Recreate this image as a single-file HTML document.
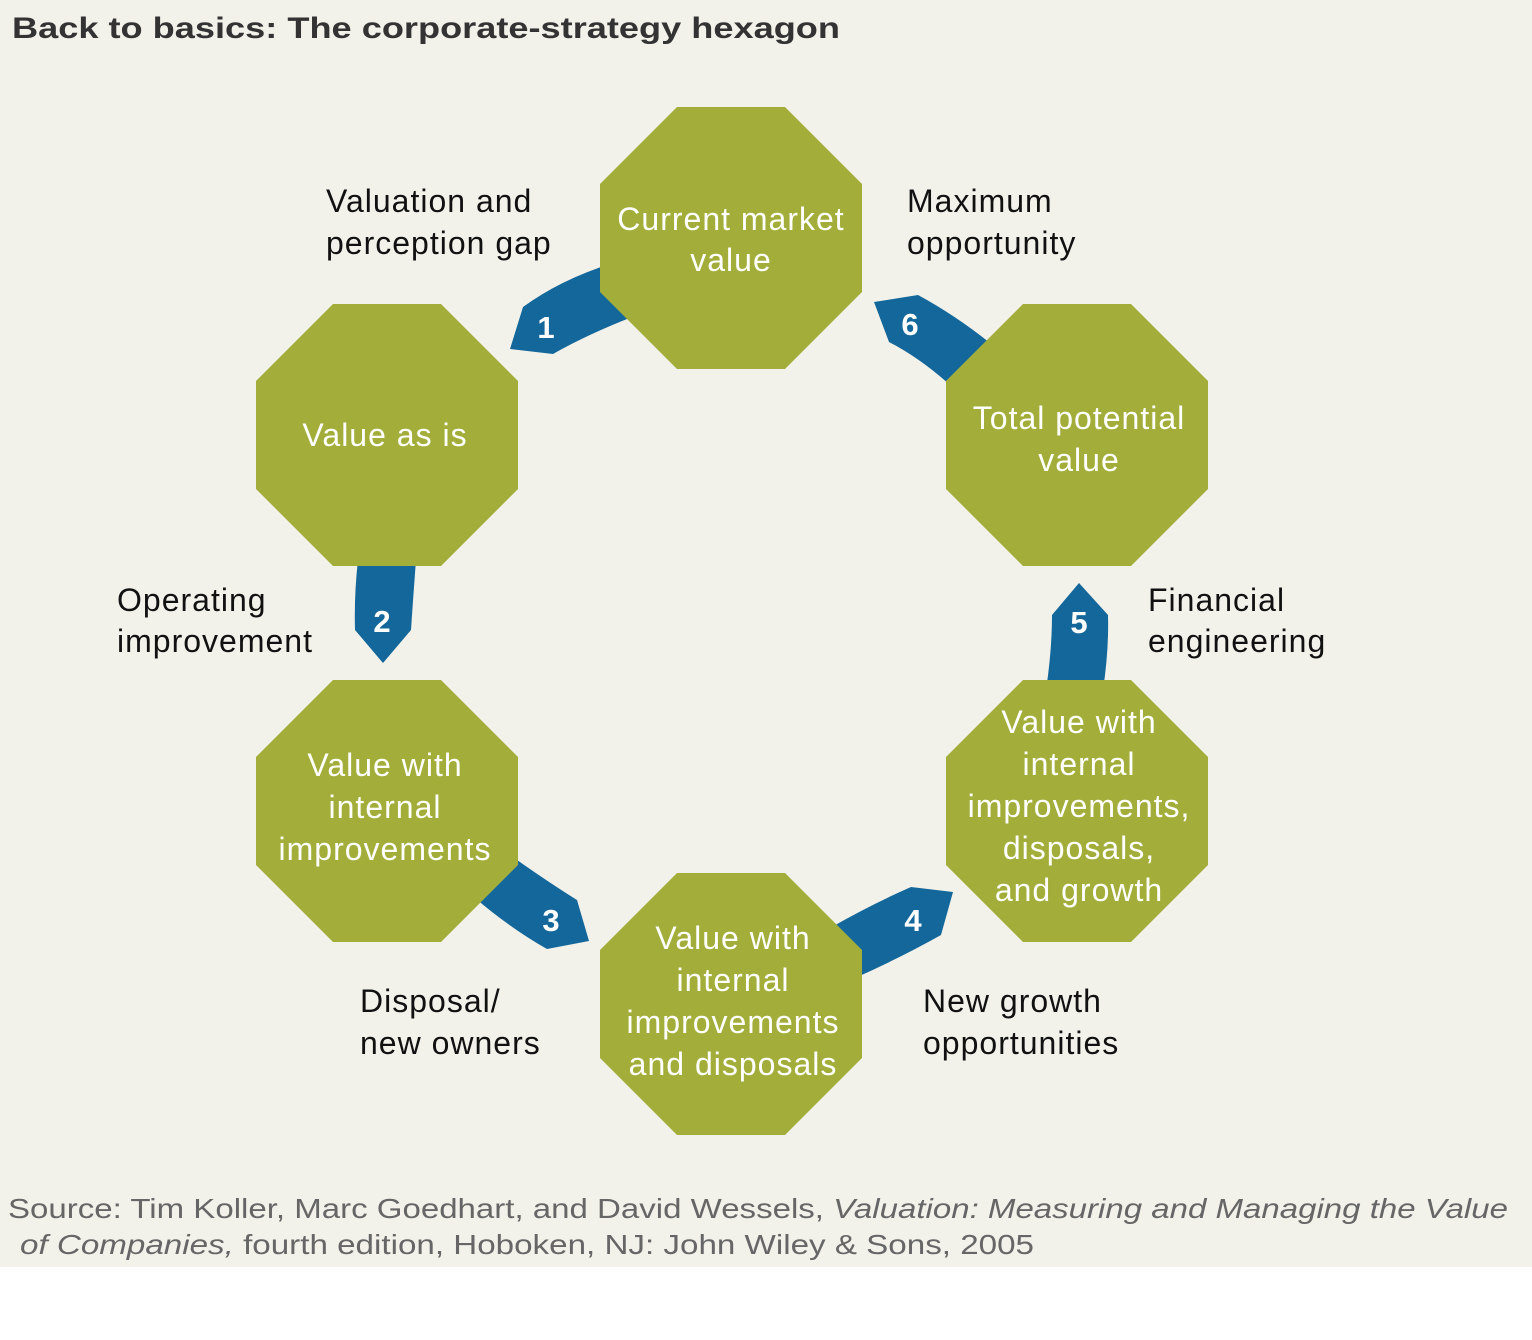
<!DOCTYPE html>
<html><head><meta charset="utf-8"><style>
html,body{margin:0;padding:0;background:#fff;}
svg{display:block;}
text{font-family:"Liberation Sans",sans-serif;}
</style></head><body>
<svg width="1532" height="1340" viewBox="0 0 1532 1340" xmlns="http://www.w3.org/2000/svg">
<rect x="0" y="0" width="1532" height="1267" fill="#f2f2eb"/>
<text x="12" y="38" font-size="30" font-weight="bold" fill="#333" textLength="828" lengthAdjust="spacingAndGlyphs">Back to basics: The corporate-strategy hexagon</text>

<g fill="#14679a">
<path d="M610,264 Q560,280 523,307 L510,349 L553,354 Q590,333 640,314 Z"/>
<path d="M358,560 L416,560 Q413,600 411,630 L383,663 L355,630 Q354,595 358,560 Z"/>
<path d="M510,855 Q545,880 577,900 L589,941 L547,949 Q510,928 475,898 Z"/>
<path d="M830,928 Q870,905 911,887 L953,892 L941,935 Q900,958 855,978 Z"/>
<path d="M1079,583 L1108,615 Q1109,650 1103,690 L1046,690 Q1052,650 1052,615 Z"/>
<path d="M874,302 L918,295 Q955,315 990,343 L950,385 Q920,358 889,342 Z"/>
</g>

<g fill="#a3ae3a">
<polygon points="677,107 785,107 862,184 862,292 785,369 677,369 600,292 600,184"/>
<polygon points="333,304 441,304 518,381 518,489 441,566 333,566 256,489 256,381"/>
<polygon points="1023,304 1131,304 1208,381 1208,489 1131,566 1023,566 946,489 946,381"/>
<polygon points="333,680 441,680 518,757 518,865 441,942 333,942 256,865 256,757"/>
<polygon points="1023,680 1131,680 1208,757 1208,865 1131,942 1023,942 946,865 946,757"/>
<polygon points="677,873 785,873 862,950 862,1058 785,1135 677,1135 600,1058 600,950"/>
</g>

<g fill="#fff" font-size="32" letter-spacing="1" text-anchor="middle">
<text x="731" y="230">Current market</text><text x="731" y="271">value</text>
<text x="385" y="446">Value as is</text>
<text x="1079" y="429">Total potential</text><text x="1079" y="471">value</text>
<text x="385" y="776">Value with</text><text x="385" y="818">internal</text><text x="385" y="860">improvements</text>
<text x="1079" y="733">Value with</text><text x="1079" y="775">internal</text><text x="1079" y="817">improvements,</text><text x="1079" y="859">disposals,</text><text x="1079" y="901">and growth</text>
<text x="733" y="949">Value with</text><text x="733" y="991">internal</text><text x="733" y="1033">improvements</text><text x="733" y="1075">and disposals</text>
</g>

<g fill="#111" font-size="32" letter-spacing="1">
<text x="326" y="212">Valuation and</text><text x="326" y="254">perception gap</text>
<text x="907" y="212">Maximum</text><text x="907" y="254">opportunity</text>
<text x="117" y="611">Operating</text><text x="117" y="652">improvement</text>
<text x="1148" y="611">Financial</text><text x="1148" y="652">engineering</text>
<text x="360" y="1012">Disposal/</text><text x="360" y="1054">new owners</text>
<text x="923" y="1012">New growth</text><text x="923" y="1054">opportunities</text>
</g>

<g fill="#fff" font-size="31" font-weight="bold" text-anchor="middle">
<text x="546" y="338">1</text>
<text x="382" y="632">2</text>
<text x="551" y="931">3</text>
<text x="913" y="931">4</text>
<text x="1079" y="633">5</text>
<text x="910" y="335">6</text>
</g>

<g fill="#666" font-size="28">
<text x="8" y="1218" textLength="1500" lengthAdjust="spacingAndGlyphs">Source: Tim Koller, Marc Goedhart, and David Wessels, <tspan font-style="italic">Valuation: Measuring and Managing the Value</tspan></text>
<text x="20" y="1254" textLength="1014" lengthAdjust="spacingAndGlyphs"><tspan font-style="italic">of Companies,</tspan> fourth edition, Hoboken, NJ: John Wiley &amp; Sons, 2005</text>
</g>
</svg>
</body></html>
